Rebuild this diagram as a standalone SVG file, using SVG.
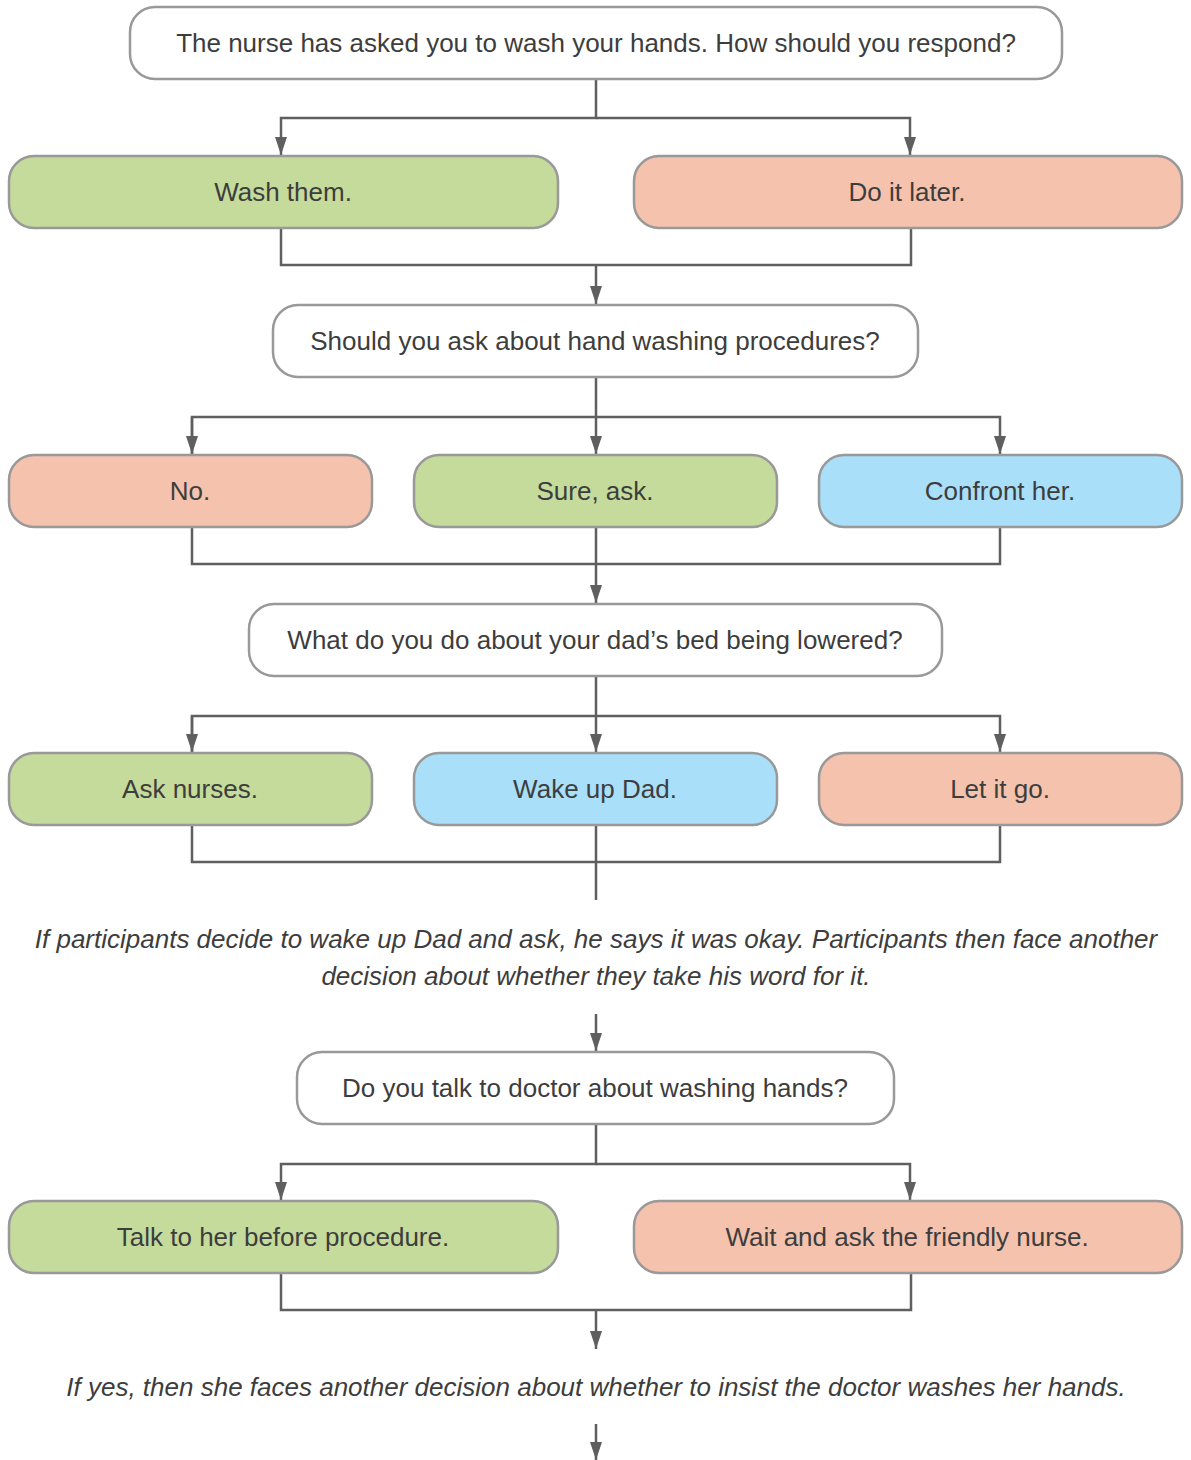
<svg xmlns="http://www.w3.org/2000/svg" width="1191" height="1460" viewBox="0 0 1191 1460">
  <defs>
    <marker id="arrow" viewBox="0 0 18 12" refX="18" refY="6" markerWidth="18" markerHeight="12" markerUnits="userSpaceOnUse" orient="auto">
      <path d="M0,0 L18,6 L0,12 Z" fill="#5f5f5f"/>
    </marker>
    <style>
      .box { stroke: #999999; stroke-width: 2.5; }
      .q { fill: #ffffff; }
      .green { fill: #c5db9b; }
      .red { fill: #f5c2ae; }
      .blue { fill: #aadffa; }
      .label { font-family: "Liberation Sans", Arial, sans-serif; font-size: 26px; fill: #3d3d3d; text-anchor: middle; dominant-baseline: central; }
      .note { font-family: "Liberation Sans", Arial, sans-serif; font-size: 26px; font-style: italic; fill: #3d3d3d; text-anchor: middle; dominant-baseline: central; }
      .conn { fill: none; stroke: #5f5f5f; stroke-width: 2.5; }
    </style>
  </defs>
  <rect width="1191" height="1460" fill="#ffffff"/>

  <g id="connectors">
    <!-- question 1 to answers -->
    <path class="conn" d="M596,79 V118 H281 V155" marker-end="url(#arrow)"/>
    <path class="conn" d="M596,118 H910 V155" marker-end="url(#arrow)"/>
    <path class="conn" d="M281,228 V265 H911 V228"/>
    <path class="conn" d="M596,265 V304" marker-end="url(#arrow)"/>
    <!-- question 2 to answers -->
    <path class="conn" d="M596,377 V454" marker-end="url(#arrow)"/>
    <path class="conn" d="M192,454 V417 H1000 V454" marker-end="url(#arrow)"/>
    <path class="conn" d="M192,417 V454" marker-end="url(#arrow)"/>
    <path class="conn" d="M192,527 V564 H1000 V527"/>
    <path class="conn" d="M596,527 V603" marker-end="url(#arrow)"/>
    <!-- question 3 to answers -->
    <path class="conn" d="M596,676 V752" marker-end="url(#arrow)"/>
    <path class="conn" d="M192,752 V716 H1000 V752" marker-end="url(#arrow)"/>
    <path class="conn" d="M192,716 V752" marker-end="url(#arrow)"/>
    <path class="conn" d="M192,825 V862 H1000 V825"/>
    <path class="conn" d="M596,825 V900"/>
    <path class="conn" d="M596,1014 V1051" marker-end="url(#arrow)"/>
    <!-- question 4 to answers -->
    <path class="conn" d="M596,1124 V1164 H281 V1200" marker-end="url(#arrow)"/>
    <path class="conn" d="M596,1164 H910 V1200" marker-end="url(#arrow)"/>
    <path class="conn" d="M281,1273 V1310 H911 V1273"/>
    <path class="conn" d="M596,1310 V1349" marker-end="url(#arrow)"/>
    <path class="conn" d="M596,1424 V1460" marker-end="url(#arrow)"/>
  </g>

  <g id="q1">
    <rect class="box q" x="130" y="7" width="932" height="72" rx="25"/>
    <text class="label" x="596" y="43">The nurse has asked you to wash your hands. How should you respond?</text>
  </g>
  <g id="wash-them">
    <rect class="box green" x="9" y="156" width="549" height="72" rx="25"/>
    <text class="label" x="283" y="192">Wash them.</text>
  </g>
  <g id="do-it-later">
    <rect class="box red" x="634" y="156" width="548" height="72" rx="25"/>
    <text class="label" x="907" y="192">Do it later.</text>
  </g>

  <g id="q2">
    <rect class="box q" x="273" y="305" width="645" height="72" rx="25"/>
    <text class="label" x="595" y="341">Should you ask about hand washing procedures?</text>
  </g>
  <g id="no">
    <rect class="box red" x="9" y="455" width="363" height="72" rx="25"/>
    <text class="label" x="190" y="491">No.</text>
  </g>
  <g id="sure-ask">
    <rect class="box green" x="414" y="455" width="363" height="72" rx="25"/>
    <text class="label" x="595" y="491">Sure, ask.</text>
  </g>
  <g id="confront-her">
    <rect class="box blue" x="819" y="455" width="363" height="72" rx="25"/>
    <text class="label" x="1000" y="491">Confront her.</text>
  </g>

  <g id="q3">
    <rect class="box q" x="249" y="604" width="693" height="72" rx="25"/>
    <text class="label" x="595" y="640">What do you do about your dad’s bed being lowered?</text>
  </g>
  <g id="ask-nurses">
    <rect class="box green" x="9" y="753" width="363" height="72" rx="25"/>
    <text class="label" x="190" y="789">Ask nurses.</text>
  </g>
  <g id="wake-up-dad">
    <rect class="box blue" x="414" y="753" width="363" height="72" rx="25"/>
    <text class="label" x="595" y="789">Wake up Dad.</text>
  </g>
  <g id="let-it-go">
    <rect class="box red" x="819" y="753" width="363" height="72" rx="25"/>
    <text class="label" x="1000" y="789">Let it go.</text>
  </g>

  <g id="note-1">
    <text class="note" x="596" y="939">If participants decide to wake up Dad and ask, he says it was okay. Participants then face another</text>
    <text class="note" x="596" y="976">decision about whether they take his word for it.</text>
  </g>

  <g id="q4">
    <rect class="box q" x="297" y="1052" width="597" height="72" rx="25"/>
    <text class="label" x="595" y="1088">Do you talk to doctor about washing hands?</text>
  </g>
  <g id="talk-before">
    <rect class="box green" x="9" y="1201" width="549" height="72" rx="25"/>
    <text class="label" x="283" y="1237">Talk to her before procedure.</text>
  </g>
  <g id="wait-and-ask">
    <rect class="box red" x="634" y="1201" width="548" height="72" rx="25"/>
    <text class="label" x="907" y="1237">Wait and ask the friendly nurse.</text>
  </g>

  <g id="note-2">
    <text class="note" x="596" y="1387">If yes, then she faces another decision about whether to insist the doctor washes her hands.</text>
  </g>
</svg>
